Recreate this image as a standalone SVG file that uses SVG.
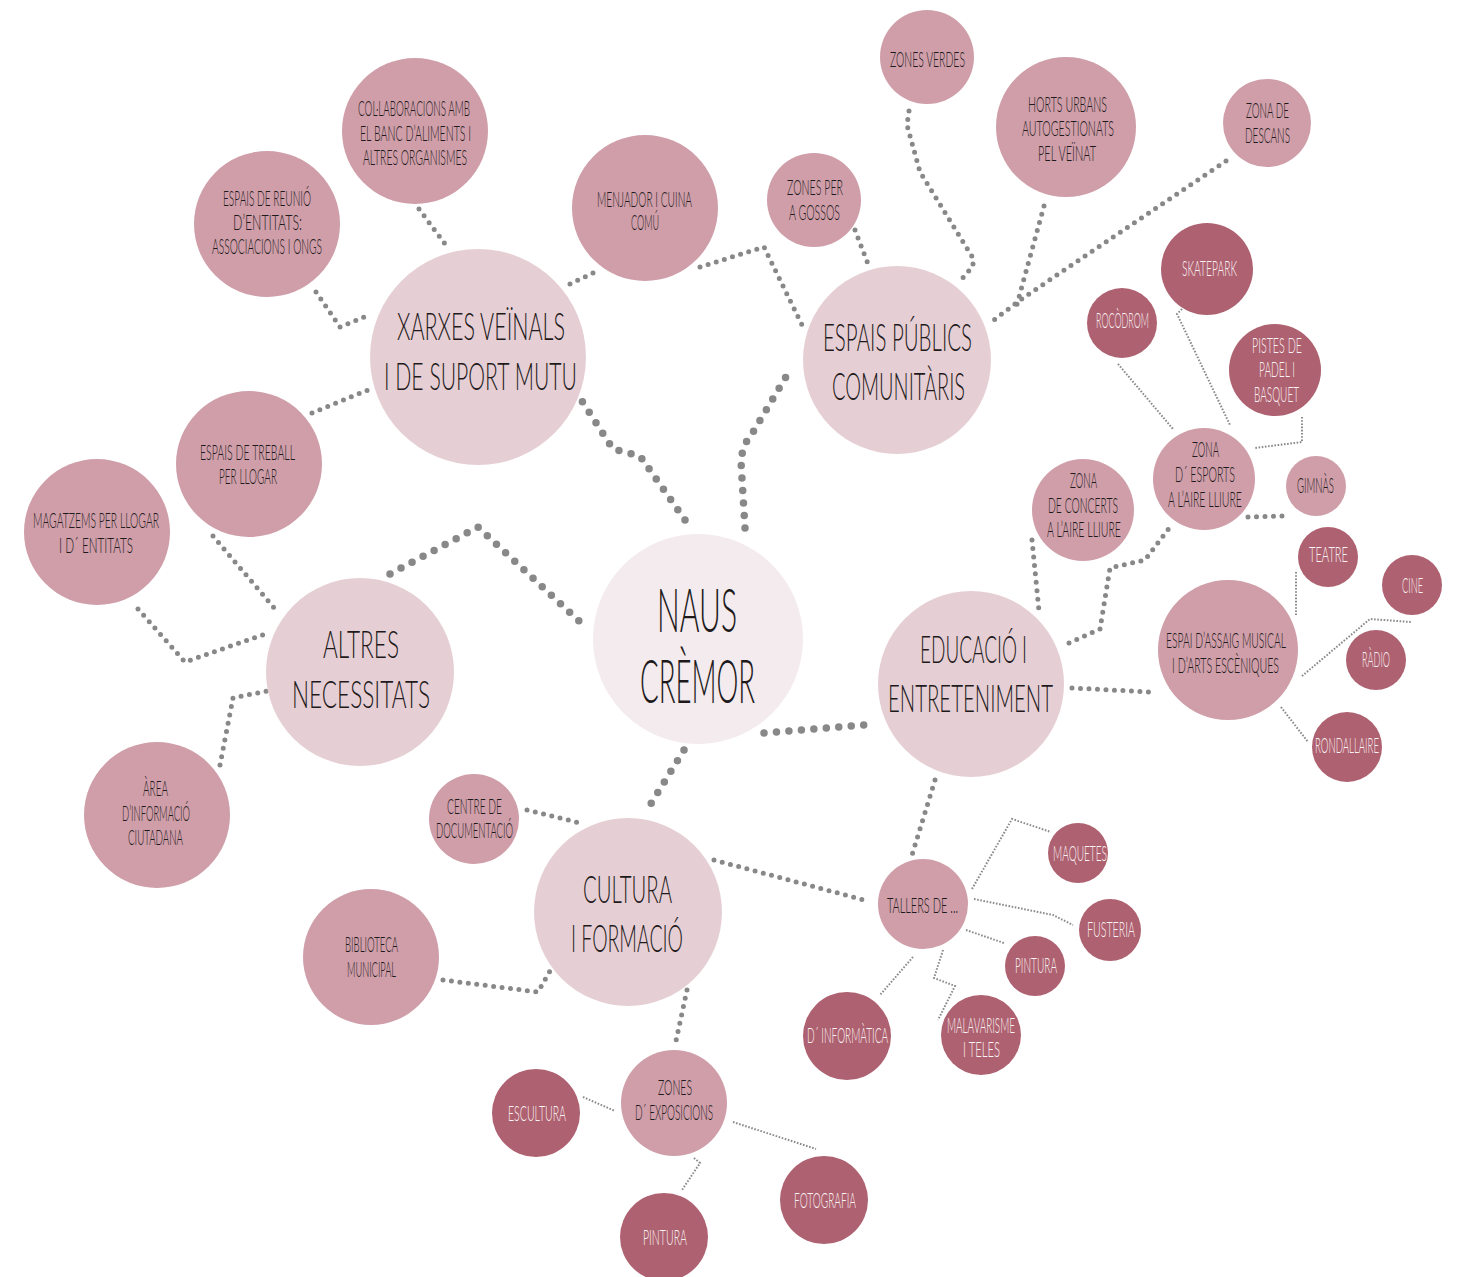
<svg xmlns="http://www.w3.org/2000/svg" width="1462" height="1277" viewBox="0 0 1462 1277">
<style>
text{font-family:Lato,"Liberation Sans","DejaVu Sans",sans-serif;font-weight:300;fill:#1e1a1b}
.t0{font-size:61px}
.t1{font-size:37px}
.t2{font-size:21px}
.t3{font-size:21px;fill:#fbf3f5}
.n0{fill:#f3ebed}
.n1{fill:#e6cfd4}
.n2{fill:#cf9ea9}
.n3{fill:#ae6170}
.c1{fill:none;stroke:#888;stroke-width:7.5;stroke-linecap:round;stroke-linejoin:round;stroke-dasharray:0 12.5}
.c2{fill:none;stroke:#888;stroke-width:5;stroke-linecap:round;stroke-linejoin:round;stroke-dasharray:0 8.5}
.c3{fill:none;stroke:#8a8a8a;stroke-width:2;stroke-dasharray:1.6 1.6}
</style>
<rect width="1462" height="1277" fill="#fff"/>
<g id="connectors">
<path class="c1" d="M685,520 L640,456 L613,449 L582,401"/>
<path class="c1" d="M745,528 L741,462 Q742,445 753,432 L790,370"/>
<path class="c1" d="M764,733 L864,725"/>
<path class="c1" d="M684,750 L647,810"/>
<path class="c1" d="M390,574 L478,527 L580,622"/>
<path class="c2" d="M419,209 L445,244"/>
<path class="c2" d="M316,292 L340,327 L369,315"/>
<path class="c2" d="M570,284 L597,271"/>
<path class="c2" d="M312,413 L368,390"/>
<path class="c2" d="M700,267 L764,247 L802,325"/>
<path class="c2" d="M855,230 L868,264"/>
<path class="c2" d="M909,111 L907,125 L920,172 L973,258 L973,266 L960,281"/>
<path class="c2" d="M1044,206 L1016,308"/>
<path class="c2" d="M1226,161 L1023,298 L990,323"/>
<path class="c2" d="M1032,540 L1039,611"/>
<path class="c2" d="M1069,643 L1100,629 L1110,568 L1145,560 L1170,527"/>
<path class="c2" d="M1072,688 L1150,692"/>
<path class="c2" d="M935,780 L912,855"/>
<path class="c2" d="M1248,517 L1284,516"/>
<path class="c2" d="M527,810 L580,823"/>
<path class="c2" d="M443,980 L538,992 L550,971"/>
<path class="c2" d="M687,990 L676,1041"/>
<path class="c2" d="M714,860 L864,900"/>
<path class="c2" d="M213,536 L275,609"/>
<path class="c2" d="M138,609 L185,662 L268,633"/>
<path class="c2" d="M220,765 L233,698 L267,691"/>
<path class="c3" d="M1118,364 L1173,429"/>
<path class="c3" d="M1182,309 L1177,314 L1230,425"/>
<path class="c3" d="M1302,417 L1302,442 L1255,448"/>
<path class="c3" d="M1296,572 L1296,615"/>
<path class="c3" d="M1302,676 L1370,619 L1411,622"/>
<path class="c3" d="M1281,707 L1308,742"/>
<path class="c3" d="M972,889 L1012,819 L1051,832"/>
<path class="c3" d="M974,899 L1053,915 L1073,925"/>
<path class="c3" d="M966,930 L1004,943"/>
<path class="c3" d="M943,950 L934,978 L955,986 L938,1020"/>
<path class="c3" d="M913,957 L880,995"/>
<path class="c3" d="M583,1097 L615,1111"/>
<path class="c3" d="M694,1158 L700,1163 L682,1190"/>
<path class="c3" d="M733,1122 L816,1149"/>
</g>
<g id="naus-cremor"><circle class="n0" cx="698" cy="639" r="105"/><text class="t0" x="657" y="632" textLength="80" lengthAdjust="spacingAndGlyphs">NAUS</text><text class="t0" x="640" y="703" textLength="115" lengthAdjust="spacingAndGlyphs">CRÈMOR</text></g>
<g id="xarxes"><circle class="n1" cx="478" cy="357" r="108"/><text class="t1" x="397" y="340" textLength="168" lengthAdjust="spacingAndGlyphs">XARXES VEÏNALS</text><text class="t1" x="384" y="390" textLength="193" lengthAdjust="spacingAndGlyphs">I DE SUPORT MUTU</text></g>
<g id="espais-publics"><circle class="n1" cx="897" cy="360" r="94"/><text class="t1" x="823" y="351" textLength="149" lengthAdjust="spacingAndGlyphs">ESPAIS PÚBLICS</text><text class="t1" x="832" y="400" textLength="133" lengthAdjust="spacingAndGlyphs">COMUNITÀRIS</text></g>
<g id="educacio"><circle class="n1" cx="971" cy="684" r="93"/><text class="t1" x="920" y="663" textLength="107" lengthAdjust="spacingAndGlyphs">EDUCACIÓ I</text><text class="t1" x="888" y="712" textLength="165" lengthAdjust="spacingAndGlyphs">ENTRETENIMENT</text></g>
<g id="altres"><circle class="n1" cx="360" cy="672" r="94"/><text class="t1" x="323" y="658" textLength="76" lengthAdjust="spacingAndGlyphs">ALTRES</text><text class="t1" x="292" y="708" textLength="138" lengthAdjust="spacingAndGlyphs">NECESSITATS</text></g>
<g id="cultura"><circle class="n1" cx="628" cy="912" r="94"/><text class="t1" x="583" y="903" textLength="89" lengthAdjust="spacingAndGlyphs">CULTURA</text><text class="t1" x="571" y="952" textLength="112" lengthAdjust="spacingAndGlyphs">I FORMACIÓ</text></g>
<g id="collaboracions"><circle class="n2" cx="415" cy="131" r="73"/><text class="t2" x="358" y="116" textLength="112" lengthAdjust="spacingAndGlyphs">COL·LABORACIONS AMB</text><text class="t2" x="360" y="141" textLength="111" lengthAdjust="spacingAndGlyphs">EL BANC D’ALIMENTS I</text><text class="t2" x="363" y="165" textLength="104" lengthAdjust="spacingAndGlyphs">ALTRES ORGANISMES</text></g>
<g id="espais-reunio"><circle class="n2" cx="267" cy="224" r="73"/><text class="t2" x="223" y="206" textLength="88" lengthAdjust="spacingAndGlyphs">ESPAIS DE REUNIÓ</text><text class="t2" x="233" y="230" textLength="69" lengthAdjust="spacingAndGlyphs">D’ENTITATS:</text><text class="t2" x="212" y="254" textLength="110" lengthAdjust="spacingAndGlyphs">ASSOCIACIONS I ONGS</text></g>
<g id="menjador"><circle class="n2" cx="645" cy="208" r="73"/><text class="t2" x="597" y="207" textLength="95" lengthAdjust="spacingAndGlyphs">MENJADOR I CUINA</text><text class="t2" x="631" y="230" textLength="28" lengthAdjust="spacingAndGlyphs">COMÚ</text></g>
<g id="gossos"><circle class="n2" cx="814" cy="200" r="47"/><text class="t2" x="787" y="195" textLength="56" lengthAdjust="spacingAndGlyphs">ZONES PER</text><text class="t2" x="789" y="220" textLength="51" lengthAdjust="spacingAndGlyphs">A GOSSOS</text></g>
<g id="zones-verdes"><circle class="n2" cx="927" cy="57" r="47"/><text class="t2" x="890" y="67" textLength="75" lengthAdjust="spacingAndGlyphs">ZONES VERDES</text></g>
<g id="horts"><circle class="n2" cx="1066" cy="127" r="70"/><text class="t2" x="1028" y="112" textLength="79" lengthAdjust="spacingAndGlyphs">HORTS URBANS</text><text class="t2" x="1022" y="136" textLength="92" lengthAdjust="spacingAndGlyphs">AUTOGESTIONATS</text><text class="t2" x="1038" y="161" textLength="58" lengthAdjust="spacingAndGlyphs">PEL VEÏNAT</text></g>
<g id="descans"><circle class="n2" cx="1267" cy="123" r="44"/><text class="t2" x="1246" y="118" textLength="43" lengthAdjust="spacingAndGlyphs">ZONA DE</text><text class="t2" x="1245" y="143" textLength="45" lengthAdjust="spacingAndGlyphs">DESCANS</text></g>
<g id="zona-esports"><circle class="n2" cx="1204" cy="479" r="51"/><text class="t2" x="1192" y="457" textLength="27" lengthAdjust="spacingAndGlyphs">ZONA</text><text class="t2" x="1175" y="482" textLength="60" lengthAdjust="spacingAndGlyphs">D´ ESPORTS</text><text class="t2" x="1168" y="507" textLength="74" lengthAdjust="spacingAndGlyphs">A L’AIRE LLIURE</text></g>
<g id="gimnas"><circle class="n2" cx="1316" cy="486" r="30"/><text class="t2" x="1297" y="493" textLength="37" lengthAdjust="spacingAndGlyphs">GIMNÀS</text></g>
<g id="concerts"><circle class="n2" cx="1083" cy="510" r="51"/><text class="t2" x="1070" y="488" textLength="27" lengthAdjust="spacingAndGlyphs">ZONA</text><text class="t2" x="1048" y="513" textLength="70" lengthAdjust="spacingAndGlyphs">DE CONCERTS</text><text class="t2" x="1047" y="537" textLength="74" lengthAdjust="spacingAndGlyphs">A L’AIRE LLIURE</text></g>
<g id="espai-assaig"><circle class="n2" cx="1228" cy="650" r="70"/><text class="t2" x="1166" y="648" textLength="120" lengthAdjust="spacingAndGlyphs">ESPAI D’ASSAIG MUSICAL</text><text class="t2" x="1172" y="673" textLength="107" lengthAdjust="spacingAndGlyphs">I D’ARTS ESCÈNIQUES</text></g>
<g id="tallers"><circle class="n2" cx="923" cy="904" r="45"/><text class="t2" x="887" y="913" textLength="71" lengthAdjust="spacingAndGlyphs">TALLERS DE ...</text></g>
<g id="espais-treball"><circle class="n2" cx="249" cy="464" r="73"/><text class="t2" x="200" y="460" textLength="95" lengthAdjust="spacingAndGlyphs">ESPAIS DE TREBALL</text><text class="t2" x="219" y="484" textLength="58" lengthAdjust="spacingAndGlyphs">PER LLOGAR</text></g>
<g id="magatzems"><circle class="n2" cx="97" cy="532" r="73"/><text class="t2" x="33" y="528" textLength="126" lengthAdjust="spacingAndGlyphs">MAGATZEMS PER LLOGAR</text><text class="t2" x="59" y="553" textLength="74" lengthAdjust="spacingAndGlyphs">I D´ ENTITATS</text></g>
<g id="area-informacio"><circle class="n2" cx="157" cy="815" r="73"/><text class="t2" x="143" y="796" textLength="25" lengthAdjust="spacingAndGlyphs">ÀREA</text><text class="t2" x="122" y="821" textLength="68" lengthAdjust="spacingAndGlyphs">D’INFORMACIÓ</text><text class="t2" x="128" y="845" textLength="55" lengthAdjust="spacingAndGlyphs">CIUTADANA</text></g>
<g id="centre-documentacio"><circle class="n2" cx="474" cy="819" r="45"/><text class="t2" x="447" y="814" textLength="55" lengthAdjust="spacingAndGlyphs">CENTRE DE</text><text class="t2" x="436" y="838" textLength="77" lengthAdjust="spacingAndGlyphs">DOCUMENTACIÓ</text></g>
<g id="biblioteca"><circle class="n2" cx="371" cy="957" r="68"/><text class="t2" x="345" y="952" textLength="53" lengthAdjust="spacingAndGlyphs">BIBLIOTECA</text><text class="t2" x="347" y="977" textLength="49" lengthAdjust="spacingAndGlyphs">MUNICIPAL</text></g>
<g id="zones-exposicions"><circle class="n2" cx="674" cy="1103" r="53"/><text class="t2" x="658" y="1095" textLength="34" lengthAdjust="spacingAndGlyphs">ZONES</text><text class="t2" x="635" y="1120" textLength="78" lengthAdjust="spacingAndGlyphs">D´ EXPOSICIONS</text></g>
<g id="skatepark"><circle class="n3" cx="1207" cy="269" r="46"/><text class="t3" x="1182" y="276" textLength="55" lengthAdjust="spacingAndGlyphs">SKATEPARK</text></g>
<g id="rocodrom"><circle class="n3" cx="1122" cy="323" r="35"/><text class="t3" x="1096" y="328" textLength="53" lengthAdjust="spacingAndGlyphs">ROCÒDROM</text></g>
<g id="pistes"><circle class="n3" cx="1275" cy="370" r="46"/><text class="t3" x="1252" y="353" textLength="50" lengthAdjust="spacingAndGlyphs">PISTES DE</text><text class="t3" x="1259" y="377" textLength="36" lengthAdjust="spacingAndGlyphs">PADEL I</text><text class="t3" x="1254" y="402" textLength="45" lengthAdjust="spacingAndGlyphs">BASQUET</text></g>
<g id="teatre"><circle class="n3" cx="1328" cy="557" r="30"/><text class="t3" x="1309" y="562" textLength="39" lengthAdjust="spacingAndGlyphs">TEATRE</text></g>
<g id="cine"><circle class="n3" cx="1412" cy="585" r="30"/><text class="t3" x="1402" y="593" textLength="21" lengthAdjust="spacingAndGlyphs">CINE</text></g>
<g id="radio"><circle class="n3" cx="1376" cy="660" r="30"/><text class="t3" x="1362" y="667" textLength="28" lengthAdjust="spacingAndGlyphs">RÀDIO</text></g>
<g id="rondallaire"><circle class="n3" cx="1347" cy="747" r="35"/><text class="t3" x="1315" y="753" textLength="64" lengthAdjust="spacingAndGlyphs">RONDALLAIRE</text></g>
<g id="maquetes"><circle class="n3" cx="1078" cy="853" r="30"/><text class="t3" x="1053" y="861" textLength="54" lengthAdjust="spacingAndGlyphs">MAQUETES</text></g>
<g id="fusteria"><circle class="n3" cx="1110" cy="930" r="31"/><text class="t3" x="1087" y="937" textLength="48" lengthAdjust="spacingAndGlyphs">FUSTERIA</text></g>
<g id="pintura-tallers"><circle class="n3" cx="1035" cy="966" r="30"/><text class="t3" x="1015" y="973" textLength="42" lengthAdjust="spacingAndGlyphs">PINTURA</text></g>
<g id="informatica"><circle class="n3" cx="847" cy="1036" r="44"/><text class="t3" x="807" y="1043" textLength="81" lengthAdjust="spacingAndGlyphs">D´ INFORMÀTICA</text></g>
<g id="malavarisme"><circle class="n3" cx="981" cy="1035" r="40"/><text class="t3" x="947" y="1033" textLength="68" lengthAdjust="spacingAndGlyphs">MALAVARISME</text><text class="t3" x="963" y="1057" textLength="37" lengthAdjust="spacingAndGlyphs">I TELES</text></g>
<g id="escultura"><circle class="n3" cx="536" cy="1113" r="44"/><text class="t3" x="508" y="1121" textLength="58" lengthAdjust="spacingAndGlyphs">ESCULTURA</text></g>
<g id="pintura-exposicions"><circle class="n3" cx="664" cy="1237" r="44"/><text class="t3" x="643" y="1245" textLength="44" lengthAdjust="spacingAndGlyphs">PINTURA</text></g>
<g id="fotografia"><circle class="n3" cx="824" cy="1200" r="44"/><text class="t3" x="794" y="1208" textLength="62" lengthAdjust="spacingAndGlyphs">FOTOGRAFIA</text></g>
</svg>
